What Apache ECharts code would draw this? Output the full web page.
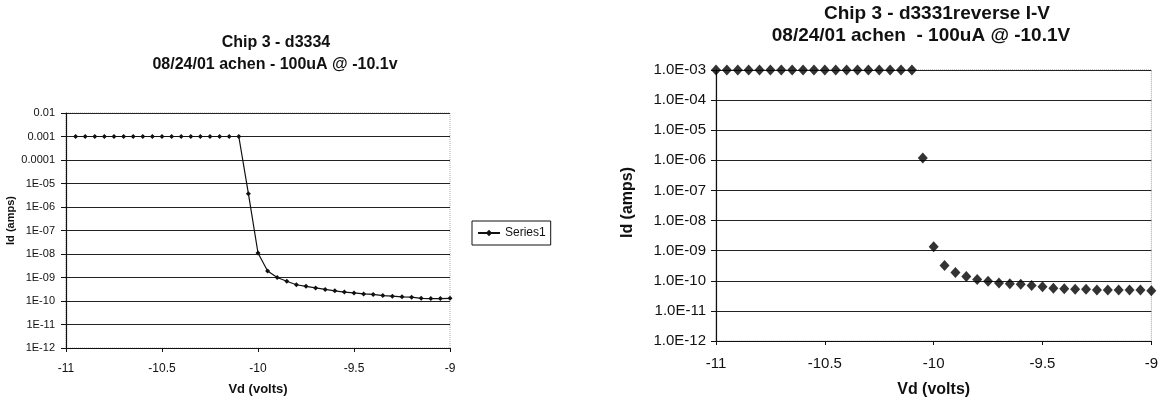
<!DOCTYPE html>
<html>
<head>
<meta charset="utf-8">
<script src="https://cdn.jsdelivr.net/npm/echarts@6/dist/echarts.min.js"></script>
<style>
	html, body { margin: 0; padding: 0; background: #fff; }
	#main { width: 1161px; height: 408px; }
</style>
</head>
<body>
<div id="main"></div>
<script>
	// left chart: Chip 3 - d3334 (line + small markers)
	const leftVd = [-10.95, -10.9, -10.85, -10.8, -10.75, -10.7, -10.65, -10.6, -10.55, -10.5,
		-10.45, -10.4, -10.35, -10.3, -10.25, -10.2, -10.15, -10.1,
		-10.05, -10.0, -9.95, -9.9, -9.85, -9.8, -9.75, -9.7, -9.65, -9.6,
		-9.55, -9.5, -9.45, -9.4, -9.35, -9.3, -9.25, -9.2, -9.15, -9.1, -9.05, -9.0];
	const leftId = [1e-3, 1e-3, 1e-3, 1e-3, 1e-3, 1e-3, 1e-3, 1e-3, 1e-3, 1e-3,
		1e-3, 1e-3, 1e-3, 1e-3, 1e-3, 1e-3, 1e-3, 1e-3,
		3.7e-6, 1.1e-8, 1.9e-9, 1.0e-9, 6.9e-10, 4.9e-10, 4.2e-10, 3.6e-10, 3.1e-10, 2.7e-10,
		2.4e-10, 2.2e-10, 2.0e-10, 1.9e-10, 1.7e-10, 1.6e-10, 1.5e-10, 1.45e-10, 1.3e-10, 1.27e-10, 1.27e-10, 1.3e-10];

	// right chart: Chip 3 - d3331 reverse I-V (markers only)
	const rightVd = [-11.0, -10.95, -10.9, -10.85, -10.8, -10.75, -10.7, -10.65, -10.6, -10.55, -10.5,
		-10.45, -10.4, -10.35, -10.3, -10.25, -10.2, -10.15, -10.1,
		-10.05, -10.0, -9.95, -9.9, -9.85, -9.8, -9.75, -9.7, -9.65, -9.6,
		-9.55, -9.5, -9.45, -9.4, -9.35, -9.3, -9.25, -9.2, -9.15, -9.1, -9.05, -9.0];
	const rightId = [1e-3, 1e-3, 1e-3, 1e-3, 1e-3, 1e-3, 1e-3, 1e-3, 1e-3, 1e-3, 1e-3,
		1e-3, 1e-3, 1e-3, 1e-3, 1e-3, 1e-3, 1e-3, 1e-3,
		1.2e-6, 1.35e-9, 3.2e-10, 1.9e-10, 1.4e-10, 1.1e-10, 9.7e-11, 8.5e-11, 8e-11, 7.7e-11,
		7e-11, 6.3e-11, 5.7e-11, 5.4e-11, 5.2e-11, 5.2e-11, 4.9e-11, 4.9e-11, 4.9e-11, 4.9e-11, 4.9e-11, 4.7e-11];

	// tick labels, indexed from 1E-12 upwards
	const leftYTicks = ['1E-12', '1E-11', '1E-10', '1E-09', '1E-08', '1E-07', '1E-06', '1E-05', '0.0001', '0.001', '0.01'];
	const rightYTicks = ['1.0E-12', '1.0E-11', '1.0E-10', '1.0E-09', '1.0E-08', '1.0E-07', '1.0E-06', '1.0E-05', '1.0E-04', '1.0E-03'];
	const xTicks = ['-11', '-10.5', '-10', '-9.5', '-9'];

	const font = "'Liberation Sans', Arial, sans-serif";
	const ink = '#111';

	function yLabel(list) {
		return v => list[Math.round(Math.log10(v)) + 12] || '';
	}
	function xLabel(v) {
		return xTicks[Math.round((v + 11) / 0.5)] || '';
	}

	function xAxisOpt(gridIndex, size, nameSize, margin, nameGap) {
		return {
			gridIndex: gridIndex,
			type: 'value',
			min: -11,
			max: -9,
			interval: 0.5,
			name: 'Vd (volts)',
			nameLocation: 'middle',
			nameGap: nameGap,
			nameTextStyle: { fontFamily: font, fontWeight: 'bold', fontSize: nameSize, color: ink },
			axisLine: { lineStyle: { color: ink, width: 1.2 } },
			axisTick: { show: true, length: 4, lineStyle: { color: ink } },
			axisLabel: { formatter: xLabel, fontFamily: font, fontSize: size, color: ink, margin: margin },
			splitLine: { show: false }
		};
	}

	function yAxisOpt(gridIndex, max, labels, size, margin, nameSize, nameGap, namePad) {
		return {
			gridIndex: gridIndex,
			type: 'log',
			logBase: 10,
			min: 1e-12,
			max: max,
			interval: 1,
			splitNumber: 10,
			name: 'Id (amps)',
			nameLocation: 'middle',
			nameRotate: 90,
			nameGap: nameGap,
			nameTextStyle: { fontFamily: font, fontWeight: 'bold', fontSize: nameSize, color: ink, padding: namePad },
			axisLine: { show: true, lineStyle: { color: ink, width: 1.2 } },
			axisTick: { show: true, length: 5, lineStyle: { color: ink } },
			axisLabel: { formatter: yLabel(labels), fontFamily: font, fontSize: size, color: ink, margin: margin },
			splitLine: { show: true, showMaxLine: false, lineStyle: { color: '#222', width: 1.2 } }
		};
	}

	function titleOpt(text, cx, top, size) {
		return {
			text: text, left: cx, top: top, textAlign: 'center', padding: 0,
			textStyle: { fontFamily: font, fontWeight: 'bold', fontSize: size, color: ink }
		};
	}

	const chart = echarts.init(document.getElementById('main'));

	const option = {
		backgroundColor: '#fff',
		animation: false,
		title: [
			titleOpt('Chip 3 - d3334', 276, 35, 16),
			titleOpt('08/24/01 achen - 100uA @ -10.1v', 275, 57, 16),
			titleOpt('Chip 3 - d3331reverse I-V', 937, 4, 19),
			titleOpt('08/24/01 achen  - 100uA @ -10.1V', 921, 26, 19)
		],
		legend: {
			data: ['Series1'],
			left: 472,
			top: 221,
			orient: 'vertical',
			borderColor: ink,
			borderWidth: 1,
			padding: [6, 5, 6, 5],
			itemWidth: 22,
			itemHeight: 8,
			itemGap: 4,
			textStyle: { fontFamily: font, fontSize: 12, color: ink }
		},
		grid: [
			{ left: 66, right: 1161 - 450, top: 113, bottom: 408 - 348,
				show: true, borderColor: '#aaa', borderWidth: 1, borderType: 'dotted', backgroundColor: 'transparent' },
			{ left: 716, right: 1161 - 1158, top: 70, bottom: 408 - 341,
				show: true, borderColor: '#999', borderWidth: 1, borderType: 'dotted', backgroundColor: 'transparent' }
		],
		xAxis: [
			xAxisOpt(0, 12, 13, 15, 35),
			xAxisOpt(1, 15, 16, 15, 41)
		],
		yAxis: [
			yAxisOpt(0, 0.01, leftYTicks, 11, 11, 11, 50, [0, 0, 0, 20]),
			yAxisOpt(1, 1e-3, rightYTicks, 15, 10, 16, 80, [0, 0, 0, 6])
		],
		series: [
			{
				name: 'Series1',
				type: 'line',
				xAxisIndex: 0,
				yAxisIndex: 0,
				data: leftVd.map((v, i) => [v, leftId[i]]),
				symbol: 'diamond',
				symbolSize: 5,
				showAllSymbol: true,
				lineStyle: { color: ink, width: 1.2 },
				itemStyle: { color: ink }
			},
			{
				name: 'd3331',
				type: 'scatter',
				xAxisIndex: 1,
				yAxisIndex: 1,
				data: rightVd.map((v, i) => [v, rightId[i]]),
				symbol: 'diamond',
				symbolSize: [10, 11],
				itemStyle: { color: '#000' }
			}
		]
	};

	chart.setOption(option);
</script>
</body>
</html>
